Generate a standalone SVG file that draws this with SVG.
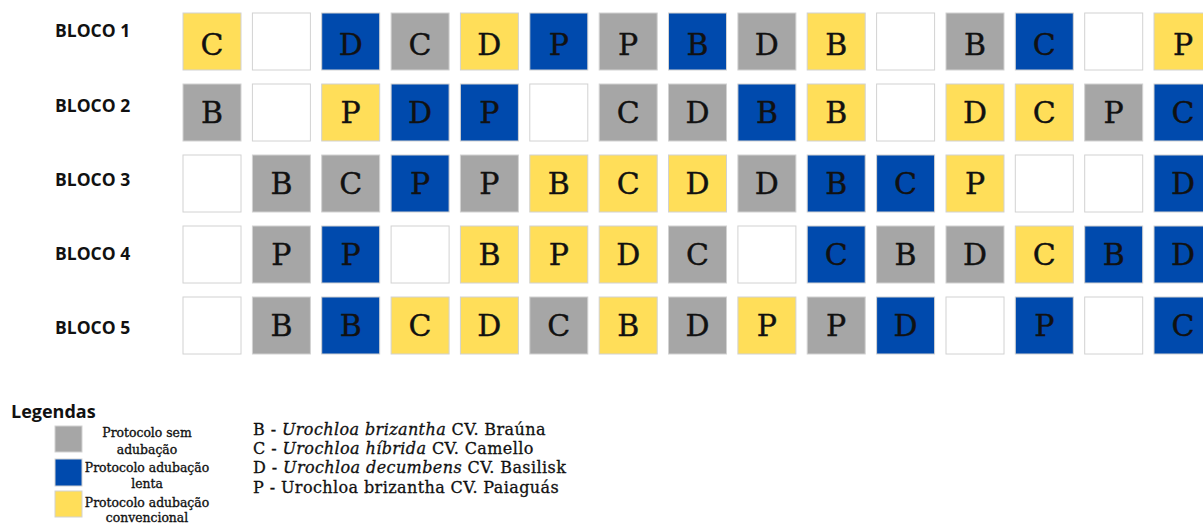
<svg xmlns="http://www.w3.org/2000/svg" width="1203" height="524" viewBox="0 0 1203 524">
<style>
.lbl{font-family:"Open Sans","Liberation Sans",sans-serif;font-weight:700;font-size:17.5px;fill:#111}
.cell{stroke:#d2d2d2;stroke-width:1}
.y{fill:#FFDE59}
.b{fill:#004AAD}
.g{fill:#A6A6A6}
.w{fill:#ffffff}
.t{font-family:"DejaVu Serif","Liberation Serif",serif;font-size:30px;fill:#111;stroke:#111;stroke-width:0.4;text-anchor:middle}
.leg{font-family:"DejaVu Serif","Liberation Serif",serif;font-size:12.4px;fill:#111;stroke:#111;stroke-width:0.35;text-anchor:middle}
.sp{font-family:"DejaVu Serif","Liberation Serif",serif;font-size:16px;letter-spacing:0.4px;fill:#111;stroke:#111;stroke-width:0.3}
.it{font-style:italic}
</style>
<rect width="1203" height="524" fill="#ffffff"/>
<g id="labels">
<text class="lbl" x="55" y="36.7">BLOCO 1</text>
<text class="lbl" x="55" y="111.7">BLOCO 2</text>
<text class="lbl" x="55" y="186">BLOCO 3</text>
<text class="lbl" x="55" y="260">BLOCO 4</text>
<text class="lbl" x="55" y="334.3">BLOCO 5</text>
</g>
<g id="bloco1">
<rect class="cell y" x="183" y="13" width="58" height="57"/><text class="t" x="212" y="55">C</text>
<rect class="cell w" x="252.4" y="13" width="58" height="57"/>
<rect class="cell b" x="321.7" y="13" width="58" height="57"/><text class="t" x="350.7" y="55">D</text>
<rect class="cell g" x="391.1" y="13" width="58" height="57"/><text class="t" x="420.1" y="55">C</text>
<rect class="cell y" x="460.4" y="13" width="58" height="57"/><text class="t" x="489.4" y="55">D</text>
<rect class="cell b" x="529.8" y="13" width="58" height="57"/><text class="t" x="558.8" y="55">P</text>
<rect class="cell g" x="599.2" y="13" width="58" height="57"/><text class="t" x="628.2" y="55">P</text>
<rect class="cell b" x="668.5" y="13" width="58" height="57"/><text class="t" x="697.5" y="55">B</text>
<rect class="cell g" x="737.9" y="13" width="58" height="57"/><text class="t" x="766.9" y="55">D</text>
<rect class="cell y" x="807.2" y="13" width="58" height="57"/><text class="t" x="836.2" y="55">B</text>
<rect class="cell w" x="876.6" y="13" width="58" height="57"/>
<rect class="cell g" x="946" y="13" width="58" height="57"/><text class="t" x="975" y="55">B</text>
<rect class="cell b" x="1015.3" y="13" width="58" height="57"/><text class="t" x="1044.3" y="55">C</text>
<rect class="cell w" x="1084.7" y="13" width="58" height="57"/>
<rect class="cell y" x="1154" y="13" width="58" height="57"/><text class="t" x="1183" y="55">P</text>
</g>
<g id="bloco2">
<rect class="cell g" x="183" y="84" width="58" height="57"/><text class="t" x="212" y="123">B</text>
<rect class="cell w" x="252.4" y="84" width="58" height="57"/>
<rect class="cell y" x="321.7" y="84" width="58" height="57"/><text class="t" x="350.7" y="123">P</text>
<rect class="cell b" x="391.1" y="84" width="58" height="57"/><text class="t" x="420.1" y="123">D</text>
<rect class="cell b" x="460.4" y="84" width="58" height="57"/><text class="t" x="489.4" y="123">P</text>
<rect class="cell w" x="529.8" y="84" width="58" height="57"/>
<rect class="cell g" x="599.2" y="84" width="58" height="57"/><text class="t" x="628.2" y="123">C</text>
<rect class="cell g" x="668.5" y="84" width="58" height="57"/><text class="t" x="697.5" y="123">D</text>
<rect class="cell b" x="737.9" y="84" width="58" height="57"/><text class="t" x="766.9" y="123">B</text>
<rect class="cell y" x="807.2" y="84" width="58" height="57"/><text class="t" x="836.2" y="123">B</text>
<rect class="cell w" x="876.6" y="84" width="58" height="57"/>
<rect class="cell y" x="946" y="84" width="58" height="57"/><text class="t" x="975" y="123">D</text>
<rect class="cell y" x="1015.3" y="84" width="58" height="57"/><text class="t" x="1044.3" y="123">C</text>
<rect class="cell g" x="1084.7" y="84" width="58" height="57"/><text class="t" x="1113.7" y="123">P</text>
<rect class="cell b" x="1154" y="84" width="58" height="57"/><text class="t" x="1183" y="123">C</text>
</g>
<g id="bloco3">
<rect class="cell w" x="183" y="155" width="58" height="57"/>
<rect class="cell g" x="252.4" y="155" width="58" height="57"/><text class="t" x="281.4" y="194">B</text>
<rect class="cell g" x="321.7" y="155" width="58" height="57"/><text class="t" x="350.7" y="194">C</text>
<rect class="cell b" x="391.1" y="155" width="58" height="57"/><text class="t" x="420.1" y="194">P</text>
<rect class="cell g" x="460.4" y="155" width="58" height="57"/><text class="t" x="489.4" y="194">P</text>
<rect class="cell y" x="529.8" y="155" width="58" height="57"/><text class="t" x="558.8" y="194">B</text>
<rect class="cell y" x="599.2" y="155" width="58" height="57"/><text class="t" x="628.2" y="194">C</text>
<rect class="cell y" x="668.5" y="155" width="58" height="57"/><text class="t" x="697.5" y="194">D</text>
<rect class="cell g" x="737.9" y="155" width="58" height="57"/><text class="t" x="766.9" y="194">D</text>
<rect class="cell b" x="807.2" y="155" width="58" height="57"/><text class="t" x="836.2" y="194">B</text>
<rect class="cell b" x="876.6" y="155" width="58" height="57"/><text class="t" x="905.6" y="194">C</text>
<rect class="cell y" x="946" y="155" width="58" height="57"/><text class="t" x="975" y="194">P</text>
<rect class="cell w" x="1015.3" y="155" width="58" height="57"/>
<rect class="cell w" x="1084.7" y="155" width="58" height="57"/>
<rect class="cell b" x="1154" y="155" width="58" height="57"/><text class="t" x="1183" y="194">D</text>
</g>
<g id="bloco4">
<rect class="cell w" x="183" y="226" width="58" height="57"/>
<rect class="cell g" x="252.4" y="226" width="58" height="57"/><text class="t" x="281.4" y="265">P</text>
<rect class="cell b" x="321.7" y="226" width="58" height="57"/><text class="t" x="350.7" y="265">P</text>
<rect class="cell w" x="391.1" y="226" width="58" height="57"/>
<rect class="cell y" x="460.4" y="226" width="58" height="57"/><text class="t" x="489.4" y="265">B</text>
<rect class="cell y" x="529.8" y="226" width="58" height="57"/><text class="t" x="558.8" y="265">P</text>
<rect class="cell y" x="599.2" y="226" width="58" height="57"/><text class="t" x="628.2" y="265">D</text>
<rect class="cell g" x="668.5" y="226" width="58" height="57"/><text class="t" x="697.5" y="265">C</text>
<rect class="cell w" x="737.9" y="226" width="58" height="57"/>
<rect class="cell b" x="807.2" y="226" width="58" height="57"/><text class="t" x="836.2" y="265">C</text>
<rect class="cell g" x="876.6" y="226" width="58" height="57"/><text class="t" x="905.6" y="265">B</text>
<rect class="cell g" x="946" y="226" width="58" height="57"/><text class="t" x="975" y="265">D</text>
<rect class="cell y" x="1015.3" y="226" width="58" height="57"/><text class="t" x="1044.3" y="265">C</text>
<rect class="cell b" x="1084.7" y="226" width="58" height="57"/><text class="t" x="1113.7" y="265">B</text>
<rect class="cell b" x="1154" y="226" width="58" height="57"/><text class="t" x="1183" y="265">D</text>
</g>
<g id="bloco5">
<rect class="cell w" x="183" y="297" width="58" height="57"/>
<rect class="cell g" x="252.4" y="297" width="58" height="57"/><text class="t" x="281.4" y="336">B</text>
<rect class="cell b" x="321.7" y="297" width="58" height="57"/><text class="t" x="350.7" y="336">B</text>
<rect class="cell y" x="391.1" y="297" width="58" height="57"/><text class="t" x="420.1" y="336">C</text>
<rect class="cell y" x="460.4" y="297" width="58" height="57"/><text class="t" x="489.4" y="336">D</text>
<rect class="cell g" x="529.8" y="297" width="58" height="57"/><text class="t" x="558.8" y="336">C</text>
<rect class="cell y" x="599.2" y="297" width="58" height="57"/><text class="t" x="628.2" y="336">B</text>
<rect class="cell g" x="668.5" y="297" width="58" height="57"/><text class="t" x="697.5" y="336">D</text>
<rect class="cell y" x="737.9" y="297" width="58" height="57"/><text class="t" x="766.9" y="336">P</text>
<rect class="cell g" x="807.2" y="297" width="58" height="57"/><text class="t" x="836.2" y="336">P</text>
<rect class="cell b" x="876.6" y="297" width="58" height="57"/><text class="t" x="905.6" y="336">D</text>
<rect class="cell w" x="946" y="297" width="58" height="57"/>
<rect class="cell b" x="1015.3" y="297" width="58" height="57"/><text class="t" x="1044.3" y="336">P</text>
<rect class="cell w" x="1084.7" y="297" width="58" height="57"/>
<rect class="cell b" x="1154" y="297" width="58" height="57"/><text class="t" x="1183" y="336">C</text>
</g>
<g id="legenda">
<text class="lbl" x="11" y="417.7" style="font-size:18px">Legendas</text>
<rect class="cell g" x="55" y="426" width="27" height="26"/>
<rect class="cell b" x="55" y="459" width="27" height="27"/>
<rect class="cell y" x="55" y="491" width="27" height="26"/>
<text class="leg" x="147" y="437">Protocolo sem</text>
<text class="leg" x="147" y="454">adubação</text>
<text class="leg" x="147" y="471.5">Protocolo adubação</text>
<text class="leg" x="147" y="488">lenta</text>
<text class="leg" x="147" y="506.5">Protocolo adubação</text>
<text class="leg" x="147" y="522">convencional</text>
</g>
<g id="especies">
<text class="sp" x="253" y="435">B - <tspan class="it">Urochloa brizantha</tspan> CV. Braúna</text>
<text class="sp" x="253" y="454">C - <tspan class="it">Urochloa híbrida</tspan> CV. Camello</text>
<text class="sp" x="253" y="473.3">D - <tspan class="it">Urochloa decumbens</tspan> CV. Basilisk</text>
<text class="sp" x="253" y="492.7">P - Urochloa brizantha CV. Paiaguás</text>
</g>
</svg>
